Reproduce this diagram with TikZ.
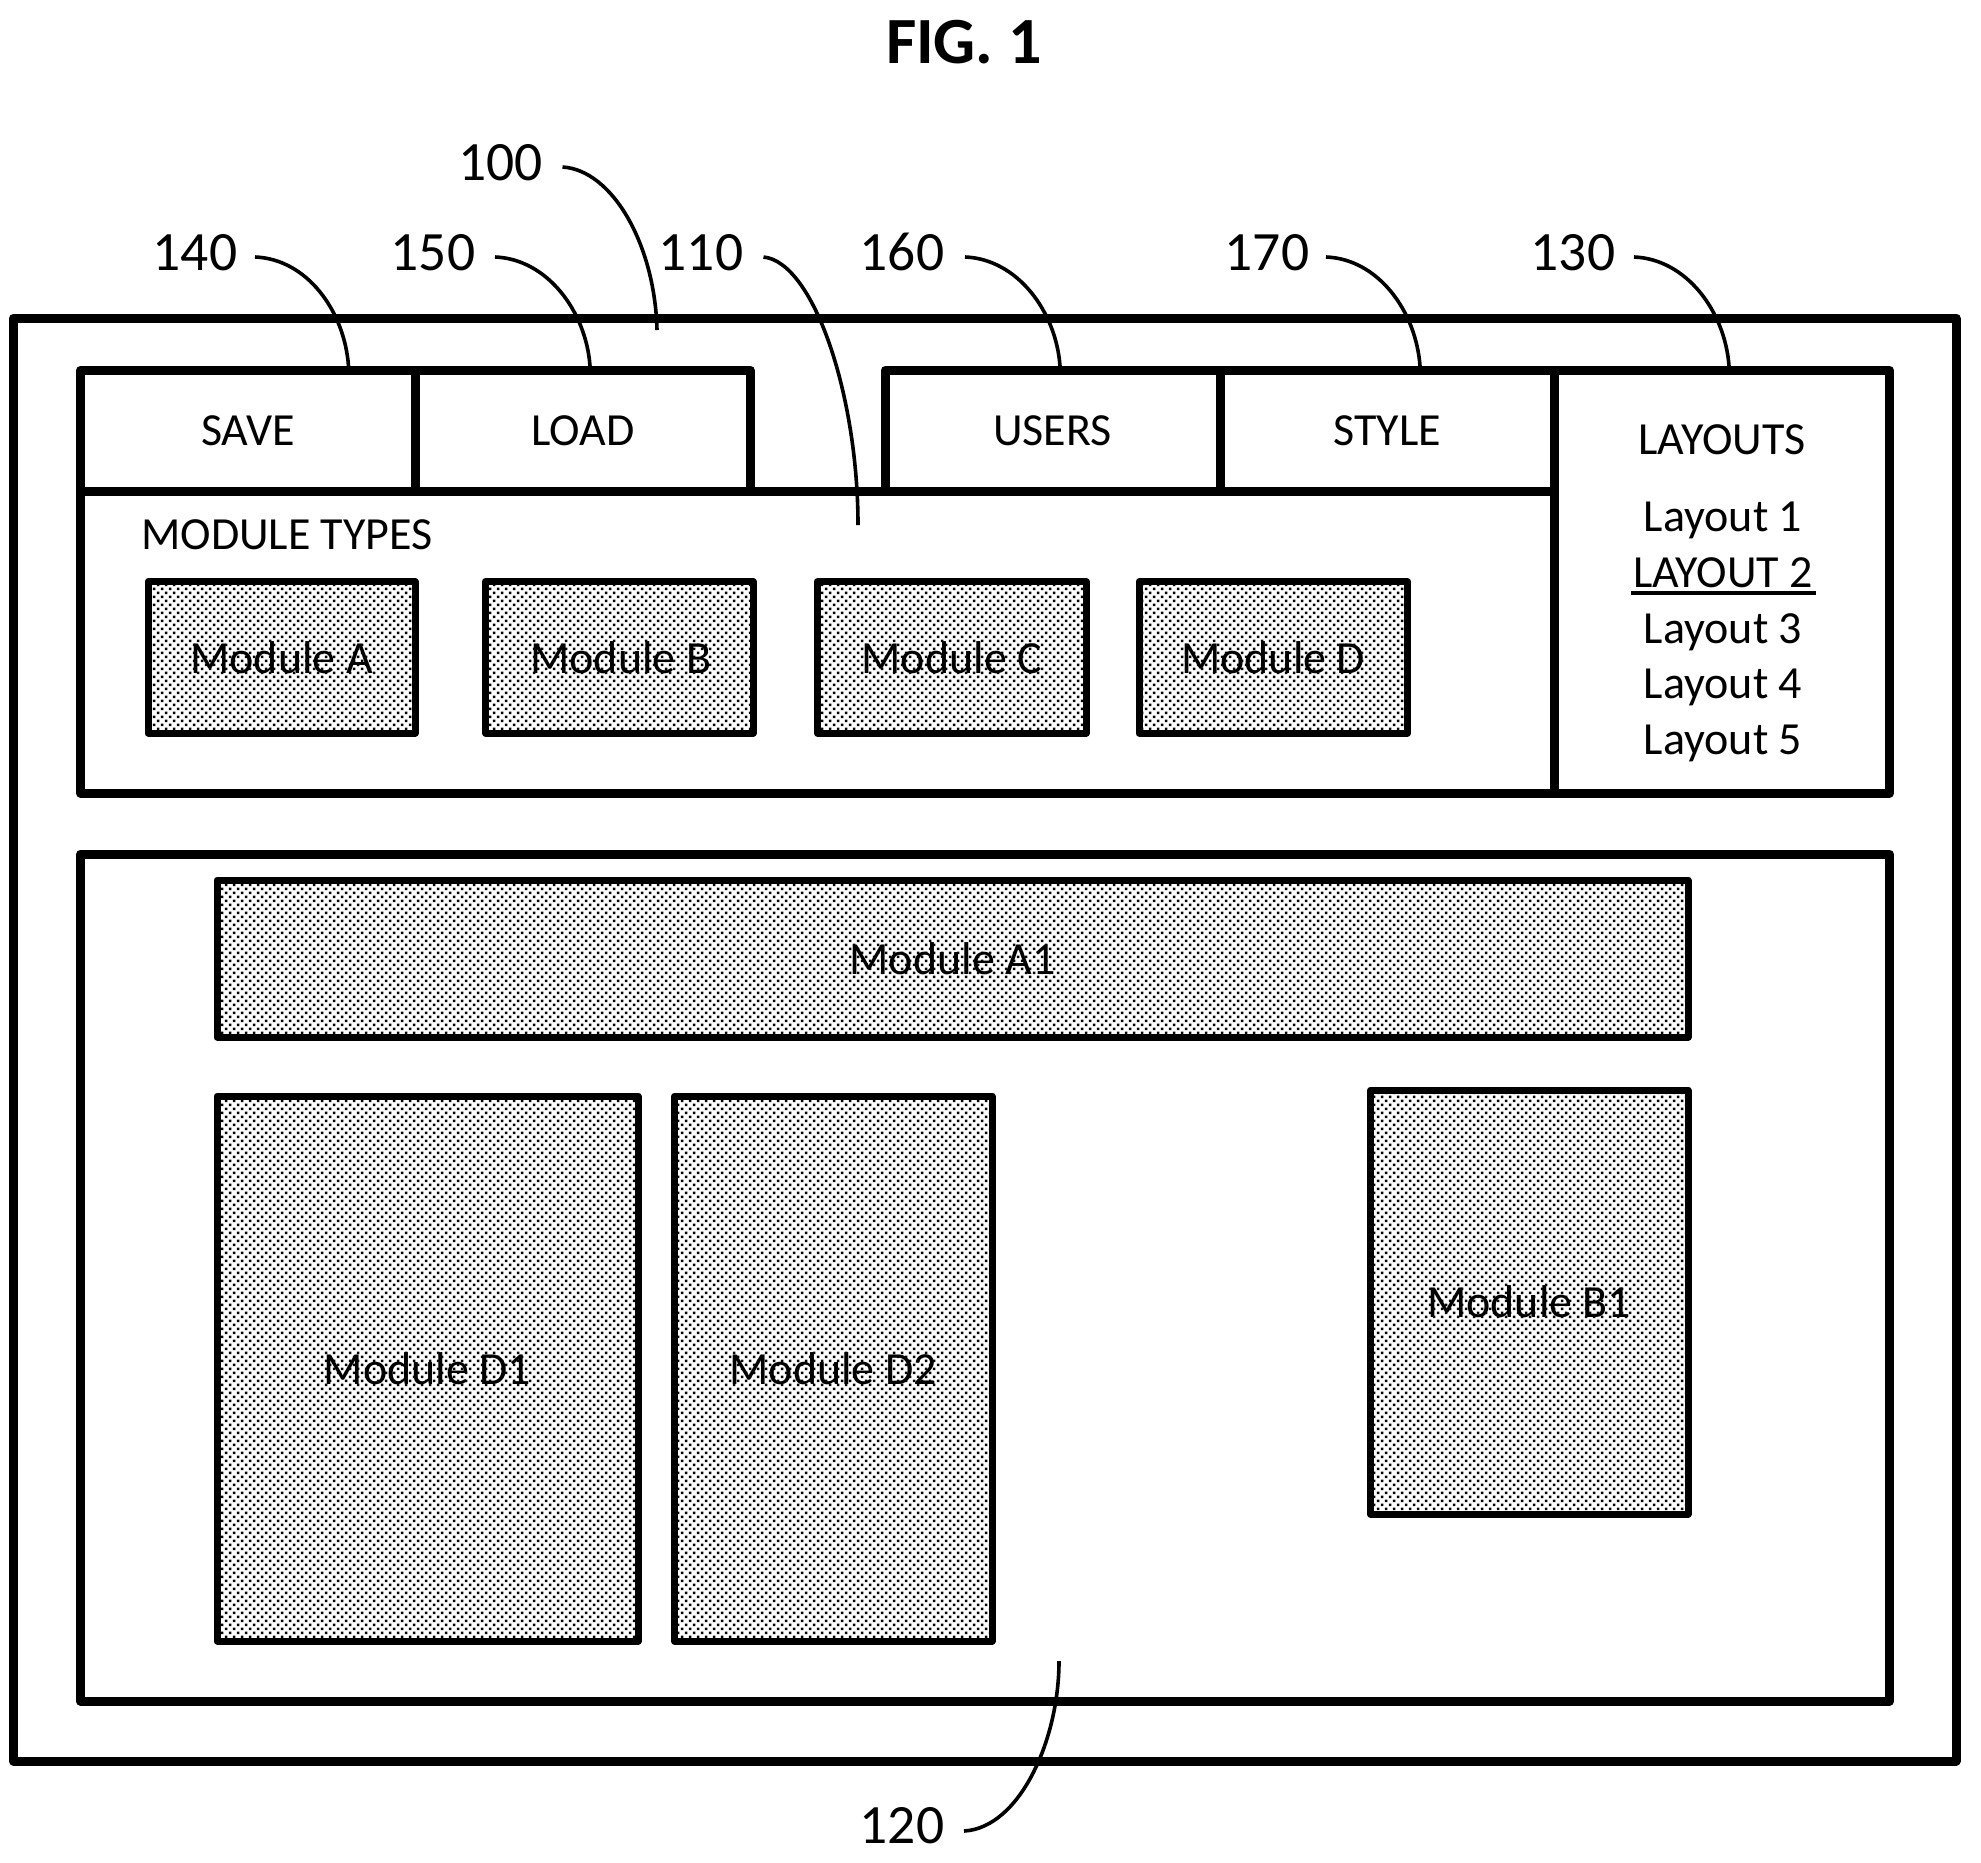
\documentclass[tikz,border=0pt]{standalone}
\usepackage{fontspec}
\setmainfont{Carlito}
\usetikzlibrary{patterns}
\pgfdeclarepatternformonly{modfill}{\pgfqpoint{-1pt}{-1pt}}{\pgfqpoint{9pt}{9pt}}{\pgfqpoint{8pt}{8pt}}{%
  \pgfpathrectangle{\pgfqpoint{0.8pt}{0.8pt}}{\pgfqpoint{2.5pt}{2.5pt}}%
  \pgfpathrectangle{\pgfqpoint{4.8pt}{4.8pt}}{\pgfqpoint{2.5pt}{2.5pt}}%
  \pgfusepath{fill}}
\tikzset{
  panel/.style={draw=black,line width=9pt,line join=round,rectangle,inner sep=0pt,font=\fontsize{46}{46}\selectfont},
  modbox/.style={draw=black,line width=7pt,line join=round,rectangle,inner sep=0pt,pattern=modfill,pattern color=black,font=\fontsize{46}{46}\selectfont},
  bodytext/.style={anchor=base,inner sep=0pt,font=\fontsize{46}{46}\selectfont},
  reftext/.style={anchor=base,inner sep=0pt,font=\fontsize{55.5}{55.5}\selectfont},
  leader/.style={draw=black,line width=3.6pt},
}
\newcommand{\bx}[7]{\node[#2,minimum width={(#5-#3)*1pt},minimum height={(#6-#4)*1pt}] (#1) at ({(#3+#5)/2},{(#4+#6)/2}) {#7};}
\newcommand{\dn}[1]{\raisebox{-3.5pt}{#1}}
\begin{document}
\begin{tikzpicture}[x=1pt,y=-1pt]
\useasboundingbox (0,0) rectangle (1981,1863);
\node[anchor=base,inner sep=0pt,font=\bfseries\fontsize{66}{66}\selectfont] (fig) at (964,63.5) {FIG. 1};
% panels
\bx{outer}{panel}{13.5}{318}{1956}{1761}{}
\bx{save}{panel}{80.5}{370}{415.5}{491}{\dn{SAVE}}
\bx{load}{panel}{415.5}{370}{750}{491}{\dn{LOAD}}
\bx{users}{panel}{885}{370}{1220}{491}{\dn{USERS}}
\bx{style}{panel}{1220}{370}{1554.5}{491}{\dn{STYLE}}
\bx{types}{panel}{80.5}{491}{1554.5}{793}{}
\bx{layouts}{panel}{1554.5}{370}{1889.5}{793}{}
\bx{lower}{panel}{80.5}{854}{1889.5}{1701}{}
% module types
\node[bodytext] (mt) at (287,549) {MODULE TYPES};
\bx{ma}{modbox}{148}{581.5}{415}{733}{Module A}
\bx{mb}{modbox}{485.5}{581.5}{753}{733}{\hspace{3pt}Module B}
\bx{mc}{modbox}{817.5}{581.5}{1086}{733}{Module C}
\bx{md}{modbox}{1139}{581.5}{1407.5}{733}{Module D}
% layouts
\node[bodytext] (l0) at (1722,454) {LAYOUTS};
\node[bodytext] (l1) at (1723,531) {Layout 1};
\node[bodytext] (l2) at (1723,587) {LAYOUT 2};
\node[bodytext] (l3) at (1723,643) {Layout 3};
\node[bodytext] (l4) at (1723,698.5) {Layout 4};
\node[bodytext] (l5) at (1723,754.5) {Layout 5};
\coordinate (ula) at (1631,593);
\coordinate (ulb) at (1816,593);
\draw[line width=3.6pt] (ula) -- (ulb);
% canvas modules
\bx{a1}{modbox}{217}{880}{1688}{1037}{Module A1}
\bx{d1}{modbox}{217}{1096}{638}{1641}{Module D1}
\bx{d2}{modbox}{674.5}{1096}{992}{1641}{Module D2}
\bx{b1}{modbox}{1370.5}{1090}{1688}{1514}{Module B1}
% reference labels
\node[reftext] (r100) at (500.5,180) {100};
\node[reftext] (r140) at (195,270) {140};
\node[reftext] (r150) at (433,270) {150};
\node[reftext] (r110) at (701,270) {110};
\node[reftext] (r160) at (902,270) {160};
\node[reftext] (r170) at (1267,270) {170};
\node[reftext] (r130) at (1573,270) {130};
\node[reftext] (r120) at (902,1843) {120};
% leader ends
\coordinate (s100) at (562.5,167); \coordinate (e100) at (657,330);
\coordinate (s140) at (255,257);   \coordinate (e140) at (348.5,366);
\coordinate (s150) at (495,257);   \coordinate (e150) at (590,366);
\coordinate (s110) at (763.5,257); \coordinate (e110) at (858,525);
\coordinate (s160) at (965,257);   \coordinate (e160) at (1060,366);
\coordinate (s170) at (1326,257);  \coordinate (e170) at (1420,366);
\coordinate (s130) at (1634,257);  \coordinate (e130) at (1729,366);
\coordinate (s120) at (964,1831);  \coordinate (e120) at (1059,1661);
\foreach \n in {140,150,160,170,130}{
  \draw[leader] (s\n) .. controls +(52,2) and +(-4,-55) .. (e\n);
}
\draw[leader] (s100) .. controls +(50,3) and +(-2,-85) .. (e100);
\draw[leader] (s110) .. controls +(50,5) and +(0,-130) .. (e110);
\draw[leader] (s120) .. controls +(55,-3) and +(0,80) .. (e120);
\end{tikzpicture}
\end{document}
